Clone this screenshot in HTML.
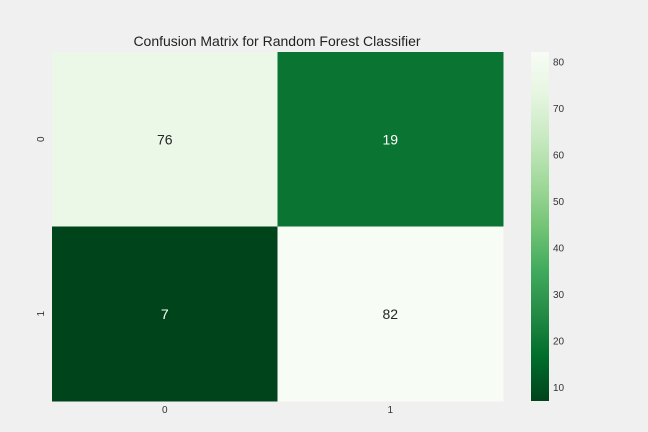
<!DOCTYPE html>
<html><head><meta charset="utf-8"><style>
body{margin:0;background:#f0f0f0;}
svg{display:block;font-family:"Liberation Sans",Arial,sans-serif;}
</style></head><body>
<svg id="chart" width="648" height="432">
<defs><linearGradient id="cb" x1="0" y1="0" x2="0" y2="1">
<stop offset="0" stop-color="#f7fcf5"/><stop offset="0.125" stop-color="#e5f5e0"/><stop offset="0.25" stop-color="#c7e9c0"/><stop offset="0.375" stop-color="#a1d99b"/><stop offset="0.5" stop-color="#74c476"/><stop offset="0.625" stop-color="#41ab5d"/><stop offset="0.75" stop-color="#238b45"/><stop offset="0.875" stop-color="#006d2c"/><stop offset="1" stop-color="#00441b"/>
</linearGradient></defs>
<text x="277" y="46" text-anchor="middle" font-size="14" fill="#222">Confusion Matrix for Random Forest Classifier</text>
<g id="cells"></g>
<rect x="531" y="52" width="18" height="349" fill="url(#cb)"/>
<g id="ticks"></g>
</svg>
<script>
const rowLabels=["0","1"];
const colLabels=["0","1"];
const values=[[76,19],[7,82]];
const cbTicks=[10,20,30,40,50,60,70,80];
const vmin=7, vmax=82;
const stops=["#f7fcf5","#e5f5e0","#c7e9c0","#a1d99b","#74c476","#41ab5d","#238b45","#006d2c","#00441b"];
function hex(h){return [1,3,5].map(i=>parseInt(h.substr(i,2),16));}
function color(v){let t=(vmax-v)/(vmax-vmin);t=Math.max(0,Math.min(1,t));const p=t*8;const i=Math.min(7,Math.floor(p));const f=p-i;const a=hex(stops[i]),b=hex(stops[i+1]);return "rgb("+a.map((c,k)=>Math.round(c+(b[k]-c)*f)).join(",")+")";}
const ns="http://www.w3.org/2000/svg";
const X0=52,X1=503,Y0=52,Y1=401;
const cw=(X1-X0)/colLabels.length, ch=(Y1-Y0)/rowLabels.length;
const cells=document.getElementById('cells');
function mk(tag,attrs,parent){const e=document.createElementNS(ns,tag);for(const k in attrs)e.setAttribute(k,attrs[k]);parent.appendChild(e);return e;}
values.forEach((row,r)=>row.forEach((v,c)=>{
 const rect=mk('rect',{x:X0+c*cw,y:Y0+r*ch,width:cw+0.5,height:ch+0.5,fill:color(v)},cells);
 
 
 const t=mk('text',{x:X0+(c+0.5)*cw,y:Y0+(r+0.5)*ch+5,'text-anchor':'middle','font-size':14,fill:(color(v)&&((vmax-v)/(vmax-vmin)<0.5)?'#262626':'#ffffff')},cells);
 t.textContent=v;
 
 
}));
const tk=document.getElementById('ticks');
colLabels.forEach((l,c)=>{const t=mk('text',{x:X0+(c+0.5)*cw,y:413,'text-anchor':'middle','font-size':10,fill:'#333'},tk);t.textContent=l;
 
 });
rowLabels.forEach((l,r)=>{const y=Y0+(r+0.5)*ch;const t=mk('text',{x:44,y:y,'text-anchor':'middle','font-size':10,fill:'#333',transform:'rotate(-90 44 '+y+')'},tk);t.textContent=l;
 
 });
cbTicks.forEach(v=>{const y=Y0+(vmax-v)/(vmax-vmin)*(Y1-Y0);const t=mk('text',{x:553,y:y+4,'font-size':10,fill:'#333'},tk);t.textContent=v;
 
 });
</script>
</body></html>
